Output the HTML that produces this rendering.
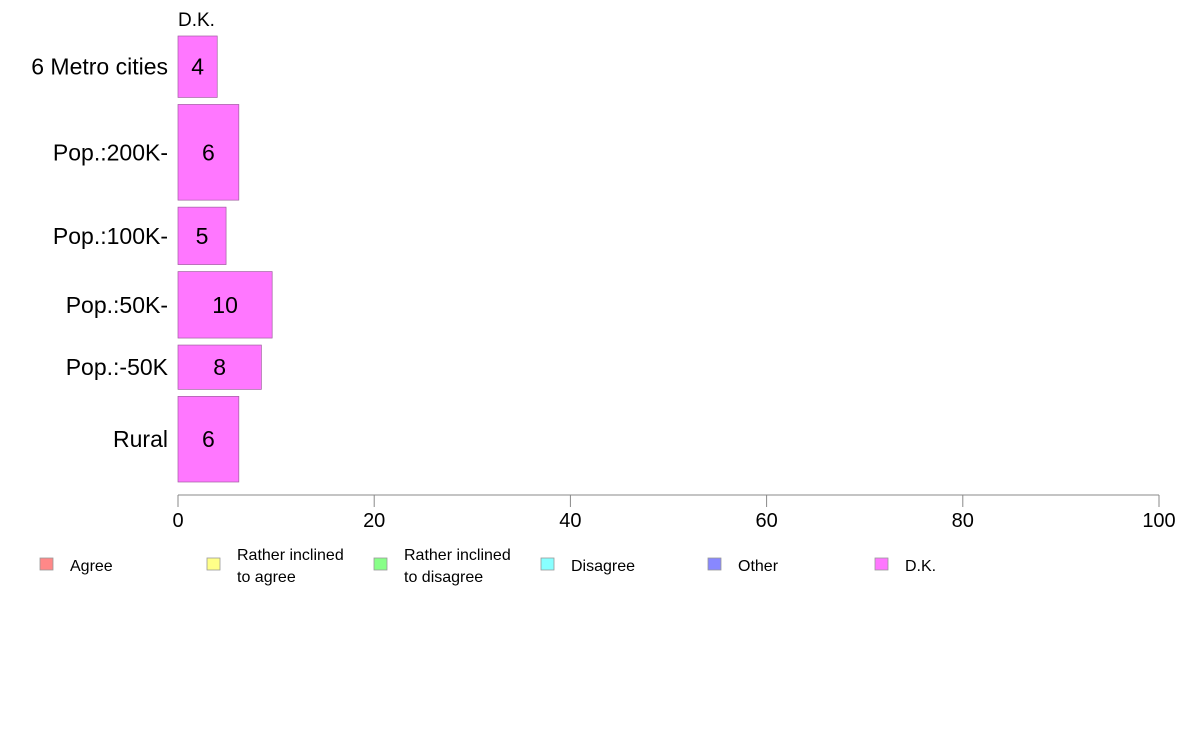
<!DOCTYPE html>
<html><head><meta charset="utf-8"><style>
body{margin:0;background:#fff;}
svg text{font-family:"Liberation Sans",Arial,sans-serif;}
</style></head><body>
<svg id="chart" width="1188" height="736" xmlns="http://www.w3.org/2000/svg"></svg>
<script>
const categories = ["6 Metro cities","Pop.:200K-","Pop.:100K-","Pop.:50K-","Pop.:-50K","Rural"];
const dkValues = [4.0, 6.2, 4.9, 9.6, 8.5, 6.2];
const dkLabels = ["4","6","5","10","8","6"];
const groupSizes = [61, 95, 57, 66, 44, 85];
const xTicks = [0,20,40,60,80,100];
const legendNames = [["Agree"],["Rather inclined","to agree"],["Rather inclined","to disagree"],["Disagree"],["Other"],["D.K."]];
const legendColors = ["#ff8888","#ffff88","#88ff88","#88ffff","#8888ff","#ff77ff"];

const NS="http://www.w3.org/2000/svg";
const svg=document.getElementById('chart');
function mk(tag,attrs,parent){const e=document.createElementNS(NS,tag);for(const k in attrs)e.setAttribute(k,attrs[k]);(parent||svg).appendChild(e);return e;}
const x0=178,x1=1159,yTop=36,yBot=482,gap=7;
const xs=v=>x0+(v/100)*(x1-x0);
const totalH=(yBot-yTop)-gap*(categories.length-1);
const sumSz=groupSizes.reduce((a,b)=>a+b,0);

const title=mk('text',{x:178,y:26,'font-size':19,fill:'#000'});


title.textContent="D.K.";

let y=yTop;
categories.forEach((c,i)=>{
  const h=groupSizes[i]/sumSz*totalH;
  const r=mk('rect',{x:x0,y:y,width:xs(dkValues[i])-x0,height:h,fill:'#ff77ff',stroke:'#a060a0','stroke-width':0.7});
  
  
  const lab=mk('text',{x:168,y:y+h/2+8,'text-anchor':'end','font-size':23,fill:'#000'});
  
  
  lab.textContent=c;
  const vl=mk('text',{x:(x0+xs(dkValues[i]))/2,y:y+h/2+8,'text-anchor':'middle','font-size':23,fill:'#000'});
  
  
  vl.textContent=dkLabels[i];
  y+=h+gap;
});

const ax=mk('line',{x1:x0,x2:x1,y1:495,y2:495,stroke:'#888','stroke-width':1});


xTicks.forEach(t=>{
  const tk=mk('line',{x1:xs(t),x2:xs(t),y1:495,y2:507,stroke:'#888','stroke-width':1});
  
  
  const tl=mk('text',{x:xs(t),y:527,'text-anchor':'middle','font-size':20,fill:'#000'});
  
  
  tl.textContent=t;
});

legendNames.forEach((n,i)=>{
  const lx=40+i*167;
  const g=mk('g',{});
  
  
  mk('rect',{x:lx,y:558,width:13,height:12,fill:legendColors[i],stroke:'#999','stroke-width':0.8},g);
  if(n.length===1){
    const t=mk('text',{x:lx+30,y:571,'font-size':16,fill:'#000'},g);t.textContent=n[0];
  }else{
    const t=mk('text',{x:lx+30,y:560,'font-size':16,fill:'#000'},g);t.textContent=n[0];
    const t2=mk('text',{x:lx+30,y:582,'font-size':16,fill:'#000'},g);t2.textContent=n[1];
  }
});
</script>
</body></html>
